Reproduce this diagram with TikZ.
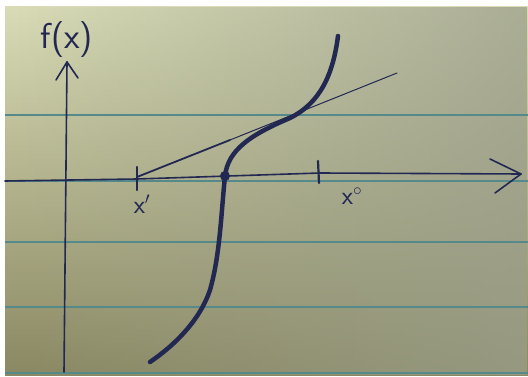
\documentclass[tikz,border=0pt]{standalone}
\usetikzlibrary{fadings}
\definecolor{ink}{HTML}{232852}
\definecolor{rule}{HTML}{55898A}
\definecolor{paperTL}{HTML}{D9DCB6}
\definecolor{paperB}{HTML}{8A8862}
\definecolor{paperR}{HTML}{9A9E8A}
\tikzset{
  pen/.style={draw=ink, line width=1.6pt, line cap=round, line join=round},
  thickpen/.style={draw=ink, line width=4.5pt, line cap=round, line join=round},
  thinpen/.style={draw=ink, line width=1pt, line cap=round},
  ruleline/.style={draw=rule, line width=1.4pt},
  hand/.style={text=ink, font=\sffamily, inner sep=0pt}
}
\begin{document}
\begin{tikzpicture}[x=1pt,y=-1pt]
\useasboundingbox (0,0) rectangle (528,377);
\fill[white] (0,0) rectangle (528,377);
% paper
\shade[top color=paperTL, bottom color=paperB] (5,7) rectangle (528,375);
\fill[paperR, path fading=west, fill opacity=0.75] (5,7) rectangle (528,375);
% ruled lines
\foreach \yy in {115,181,242,307,373} {\draw[ruleline] (5,\yy) -- (528,\yy);}
% named coordinates
\coordinate (ybot) at (64,372);
\coordinate (ytop) at (67,62);
\coordinate (yl) at (56,80);
\coordinate (yr) at (78,78);
\coordinate (xleft) at (5,181);
\coordinate (xend) at (521,174);
\coordinate (xu) at (490,159);
\coordinate (xd) at (495,193);
\coordinate (t1a) at (137,167);
\coordinate (t1b) at (137,190);
\coordinate (t0a) at (318,161);
\coordinate (t0b) at (319,183);
\coordinate (tanA) at (137,177);
\coordinate (tanB) at (397,73);
\coordinate (root) at (225,176);
% axes
\draw[pen] (ybot) -- (ytop);
\draw[pen] (yl) -- (ytop) -- (yr);
\draw[pen] (xleft) -- (137,179) -- (320,173) -- (xend);
\draw[pen] (xu) -- (xend) -- (xd);
% ticks
\draw[pen, line width=2.2pt] (t1a) -- (t1b);
\draw[pen, line width=2.2pt] (t0a) -- (t0b);
% tangent line
\draw[thinpen, line width=1.8pt] (tanA) -- (230,140);
\draw[thinpen] (230,140) -- (tanB);
% curve
\draw[thickpen] (150,362) .. controls (175,345) and (200,320) .. (210,290)
  .. controls (220,255) and (221,215) .. (root)
  .. controls (228,150) and (250,135) .. (290,118)
  .. controls (320,103) and (333,75) .. (338,36);
\fill[ink] (root) circle (5);
% labels
\node[hand, font=\sffamily\fontsize{36}{38}\selectfont] (fx) at (67,40) {f(x)};
\node[hand, font=\sffamily\fontsize{26}{28}\selectfont] (lx1) at (142,204) {x$'$};
\node[hand, font=\sffamily\fontsize{26}{28}\selectfont] (lx0) at (352,196) {x$^{\circ}$};
\end{tikzpicture}
\end{document}
